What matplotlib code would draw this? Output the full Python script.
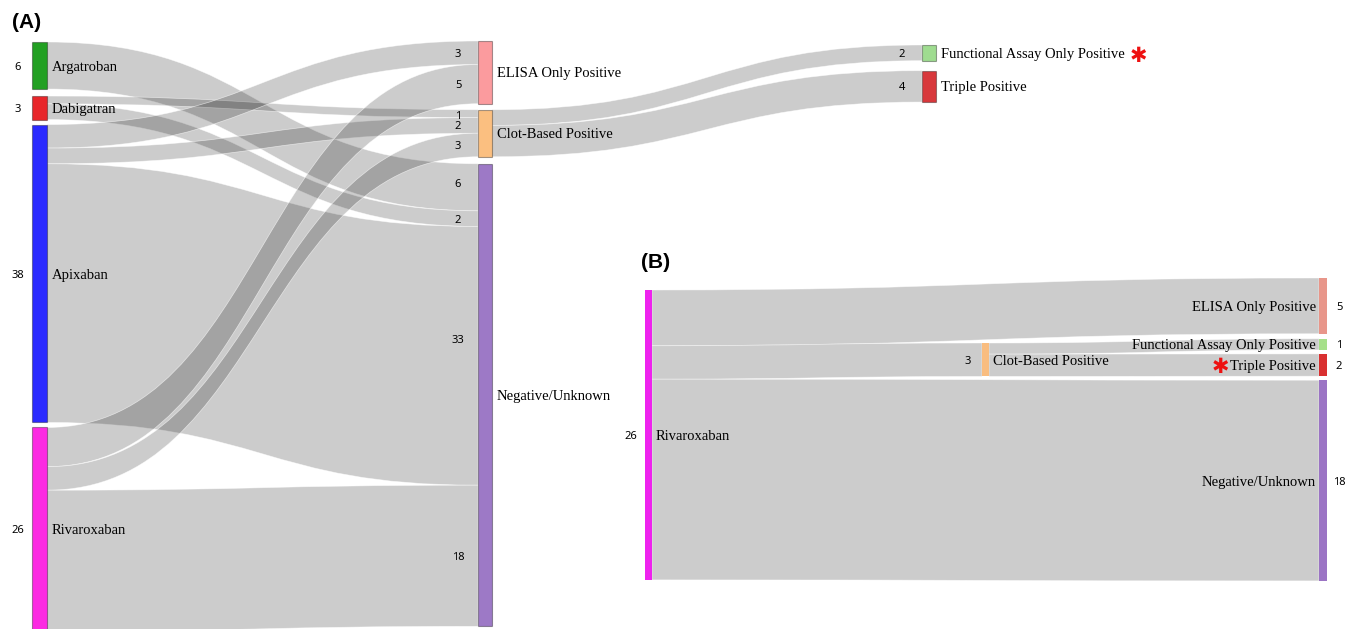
import matplotlib
matplotlib.use('Agg')
import matplotlib.pyplot as plt
from matplotlib.path import Path
from matplotlib.patches import PathPatch, Rectangle

# ---------------- data ----------------
# Panel A
a_col_left = ['Argatroban', 'Dabigatran', 'Apixaban', 'Rivaroxaban']
a_col_mid = ['ELISA Only Positive', 'Clot-Based Positive', 'Negative/Unknown']
a_col_right = ['Functional Assay Only Positive', 'Triple Positive']
a_link_src = ['Argatroban', 'Dabigatran', 'Dabigatran', 'Apixaban', 'Apixaban', 'Apixaban',
              'Rivaroxaban', 'Rivaroxaban', 'Rivaroxaban',
              'Clot-Based Positive', 'Clot-Based Positive']
a_link_tgt = ['Negative/Unknown', 'Clot-Based Positive', 'Negative/Unknown',
              'ELISA Only Positive', 'Clot-Based Positive', 'Negative/Unknown',
              'ELISA Only Positive', 'Clot-Based Positive', 'Negative/Unknown',
              'Functional Assay Only Positive', 'Triple Positive']
a_link_val = [6, 1, 2, 3, 2, 33, 5, 3, 18, 2, 4]

# Panel B (Rivaroxaban)
b_col_left = ['Rivaroxaban']
b_col_mid = ['Clot-Based Positive']
b_col_right = ['ELISA Only Positive', 'Functional Assay Only Positive', 'Triple Positive', 'Negative/Unknown']
b_link_src = ['Rivaroxaban', 'Rivaroxaban', 'Rivaroxaban', 'Clot-Based Positive', 'Clot-Based Positive']
b_link_tgt = ['ELISA Only Positive', 'Clot-Based Positive', 'Negative/Unknown',
              'Functional Assay Only Positive', 'Triple Positive']
b_link_val = [5, 3, 18, 1, 2]

# ---------------- styles ----------------
colors_a = {
    'Argatroban': '#22a022', 'Dabigatran': '#e8262a', 'Apixaban': '#2a2aff', 'Rivaroxaban': '#fc2ae2',
    'ELISA Only Positive': '#fb9b9e', 'Clot-Based Positive': '#fbbf80', 'Negative/Unknown': '#9d79c6',
    'Functional Assay Only Positive': '#9fdc90', 'Triple Positive': '#d8383c',
}
colors_b = {
    'Rivaroxaban': '#ee22ee', 'Clot-Based Positive': '#f9bd80', 'ELISA Only Positive': '#e8968a',
    'Functional Assay Only Positive': '#a6e08a', 'Triple Positive': '#d93030', 'Negative/Unknown': '#9b74c4',
}
# small manual nudges of the link value labels in panel A (pixels), by link index
a_value_label_dy = {0: -4, 1: 1, 5: -17}

SERIF = 'Liberation Serif'
SANS = 'Noto Sans'
LBL_FS = 10.5
NUM_FS = 8

fig = plt.figure(figsize=(13.46, 6.29), dpi=100)
ax = fig.add_axes([0, 0, 1, 1])
ax.set_xlim(0, 1346)
ax.set_ylim(629, 0)
ax.axis('off')


def node_values(cols, src, tgt, val):
    vals = {}
    for col in cols:
        for n in col:
            vin = sum(v for s, t, v in zip(src, tgt, val) if t == n)
            vout = sum(v for s, t, v in zip(src, tgt, val) if s == n)
            vals[n] = max(vin, vout)
    return vals


def layout(cols, vals, xs, widths, tops, gaps, scale):
    pos = {}
    for col, x, w, top, gap in zip(cols, xs, widths, tops, gaps):
        y = top
        for i, n in enumerate(col):
            h = vals[n] * scale
            pos[n] = [x, w, y, h]
            y += h + (gap[i] if i < len(gap) else 0)
    return pos


def draw_links(pos, cols, src, tgt, val, scale):
    order = {n: i for col in cols for i, n in enumerate(col)}
    out_off = {n: 0.0 for n in pos}
    in_off = {n: 0.0 for n in pos}
    ends = {}
    for n in pos:
        outs = sorted([k for k in range(len(val)) if src[k] == n], key=lambda k: order[tgt[k]])
        for k in outs:
            ends.setdefault(k, {})['s'] = pos[n][2] + out_off[n]
            out_off[n] += val[k] * scale
        ins = sorted([k for k in range(len(val)) if tgt[k] == n], key=lambda k: order[src[k]])
        for k in ins:
            ends.setdefault(k, {})['t'] = pos[n][2] + in_off[n]
            in_off[n] += val[k] * scale
    for k in range(len(val)):
        s, t, v = src[k], tgt[k], val[k]
        h = v * scale
        x0 = pos[s][0] + pos[s][1]
        x1 = pos[t][0]
        xm = (x0 + x1) / 2
        ys = ends[k]['s']
        yt = ends[k]['t']
        verts = [(x0, ys), (xm, ys), (xm, yt), (x1, yt), (x1, yt + h),
                 (xm, yt + h), (xm, ys + h), (x0, ys + h), (x0, ys)]
        codes = [Path.MOVETO, Path.CURVE4, Path.CURVE4, Path.CURVE4, Path.LINETO,
                 Path.CURVE4, Path.CURVE4, Path.CURVE4, Path.CLOSEPOLY]
        ax.add_patch(PathPatch(Path(verts, codes), facecolor=(0, 0, 0, 0.2),
                               edgecolor=(1, 1, 1, 0.6), linewidth=0.5, zorder=1))
    return ends


def draw_nodes(pos, colors, edge=True):
    for n, (x, w, y, h) in pos.items():
        ax.add_patch(Rectangle((x, y), w, h, facecolor=colors[n],
                               edgecolor=(0, 0, 0, 0.35) if edge else 'none',
                               linewidth=0.8, zorder=2))


def label(x, y, s, ha='left', family=SERIF, fs=LBL_FS, **kw):
    ax.text(x, y, s, family=family, fontsize=fs, ha=ha, va='center_baseline', zorder=3, **kw)


# ---------------- Panel A ----------------
a_cols = [a_col_left, a_col_mid, a_col_right]
a_vals = node_values(a_cols, a_link_src, a_link_tgt, a_link_val)
a_scale = 7.84
a_pos = layout(a_cols, a_vals, xs=[32, 478, 922], widths=[15, 14, 14],
               tops=[42, 41, 45], gaps=[[7, 5, 5], [6, 7], [10]], scale=a_scale)
a_ends = draw_links(a_pos, a_cols, a_link_src, a_link_tgt, a_link_val, a_scale)
draw_nodes(a_pos, colors_a)

for n in a_col_left:
    x, w, y, h = a_pos[n]
    label(x + w + 5, y + h / 2, n)
    label(18, y + h / 2, str(a_vals[n]), ha='center', family=SANS, fs=NUM_FS)
for n in a_col_mid + a_col_right:
    x, w, y, h = a_pos[n]
    label(x + w + 5, y + h / 2, n)
for k, v in enumerate(a_link_val):
    t = a_link_tgt[k]
    yt = a_ends[k]['t'] + v * a_scale / 2 + a_value_label_dy.get(k, 0)
    label(a_pos[t][0] - 20, yt, str(v), ha='center', family=SANS, fs=NUM_FS)

fx, fw, fy, fh = a_pos['Functional Assay Only Positive']
ax.text(1138, fy + fh / 2 + 3, '\u2731', color='#ee1111', fontsize=15, family='DejaVu Sans',
        ha='center', va='center', zorder=3)
ax.text(12, 23, '(A)', family='Liberation Sans', fontweight='bold', fontsize=15, ha='left', va='center')

# ---------------- Panel B ----------------
b_cols = [b_col_left, b_col_mid, b_col_right]
b_vals = node_values(b_cols, b_link_src, b_link_tgt, b_link_val)
b_scale = 11.15
b_pos = layout(b_cols, b_vals, xs=[645, 982, 1319], widths=[7, 7, 8],
               tops=[290, 343, 278], gaps=[[], [], [5, 4, 4]], scale=b_scale)
draw_links(b_pos, b_cols, b_link_src, b_link_tgt, b_link_val, b_scale)
draw_nodes(b_pos, colors_b, edge=False)

for n in b_col_left + b_col_mid:
    x, w, y, h = b_pos[n]
    label(x + w + 4, y + h / 2, n)
    label(x - 14, y + h / 2, str(b_vals[n]), ha='center', family=SANS, fs=NUM_FS)
for n in b_col_right:
    x, w, y, h = b_pos[n]
    label(x - 3, y + h / 2, n, ha='right')
    label(x + w + 12, y + h / 2, str(b_vals[n]), ha='center', family=SANS, fs=NUM_FS)

tx, tw, ty, th = b_pos['Triple Positive']
ax.text(1220, ty + th / 2 + 2, '\u2731', color='#ee1111', fontsize=15, family='DejaVu Sans',
        ha='center', va='center', zorder=3)
ax.text(641, 262, '(B)', family='Liberation Sans', fontweight='bold', fontsize=15, ha='left', va='center')

fig.savefig('out.png', dpi=100)
